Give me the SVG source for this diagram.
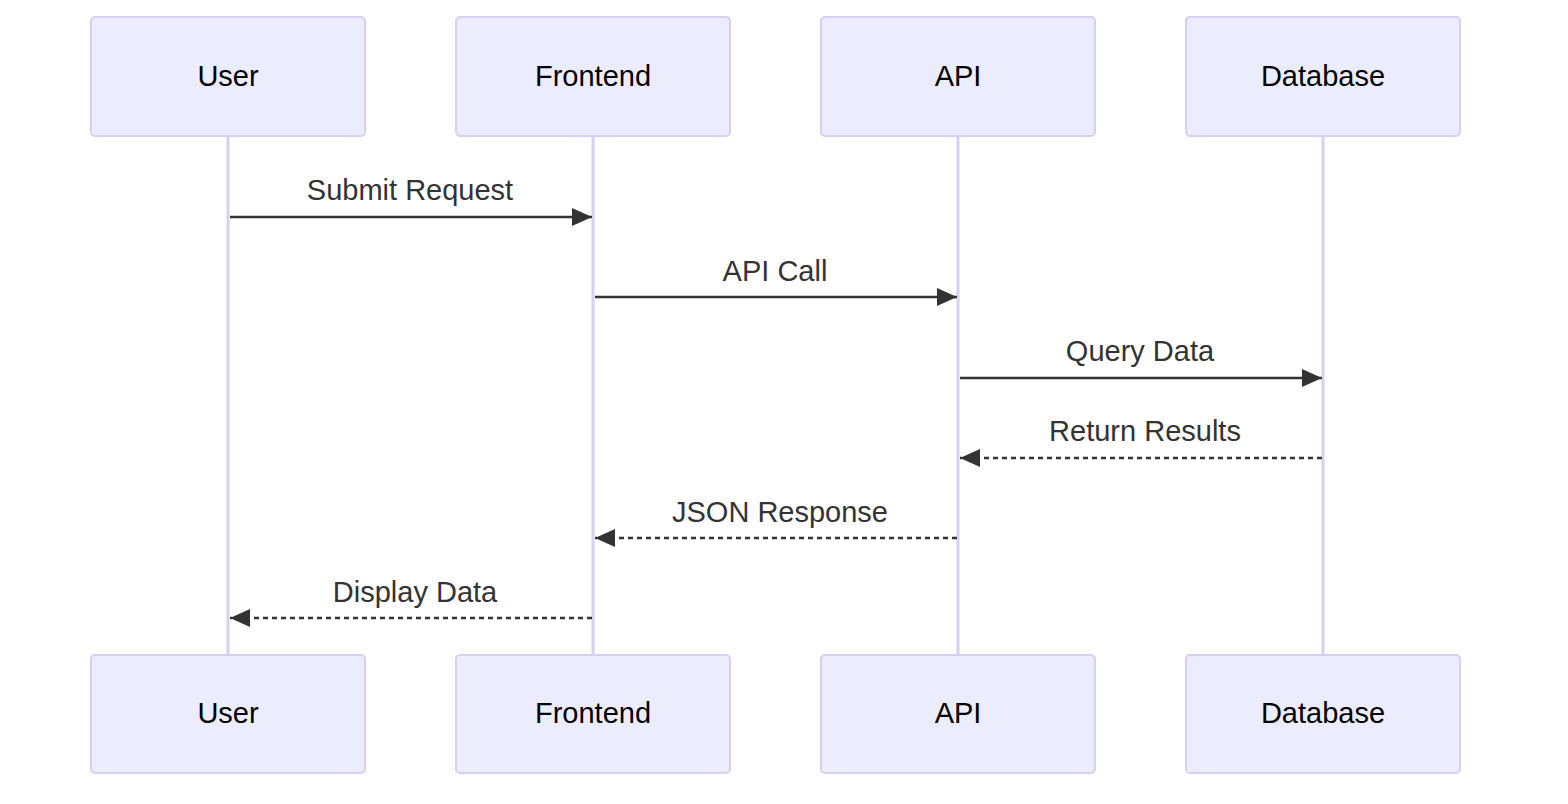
<svg xmlns="http://www.w3.org/2000/svg" width="1568" height="804" viewBox="0 0 1568 804">
<defs>
<style>
.actor rect{fill:#ECECFF;stroke:#D8CFF5;stroke-width:2}
.actor text{font-family:"Liberation Sans",Arial,sans-serif;font-size:29px;fill:#000;text-anchor:middle;dominant-baseline:central}
.life{stroke:#D8CFF5;stroke-width:3}
.msg{stroke:#333;stroke-width:2.5;fill:none}
.dash{stroke-dasharray:5,4}
.lbl{font-family:"Liberation Sans",Arial,sans-serif;font-size:29px;fill:#333;text-anchor:middle}
</style>
<marker id="ah" markerWidth="20" markerHeight="18" refX="20" refY="9" orient="auto-start-reverse" markerUnits="userSpaceOnUse">
<path d="M0,0 L20,9 L0,18 Z" fill="#333"/>
</marker>
</defs>
<rect width="1568" height="804" fill="#fff"/>
<g id="lifelines">
<line class="life" x1="228" y1="136" x2="228" y2="656"/>
<line class="life" x1="593" y1="136" x2="593" y2="656"/>
<line class="life" x1="958" y1="136" x2="958" y2="656"/>
<line class="life" x1="1323" y1="136" x2="1323" y2="656"/>
</g>
<g id="user-top" class="actor"><rect x="91" y="17" width="274" height="119" rx="4"/><text x="228" y="76">User</text></g>
<g id="frontend-top" class="actor"><rect x="456" y="17" width="274" height="119" rx="4"/><text x="593" y="76">Frontend</text></g>
<g id="api-top" class="actor"><rect x="821" y="17" width="274" height="119" rx="4"/><text x="958" y="76">API</text></g>
<g id="database-top" class="actor"><rect x="1186" y="17" width="274" height="119" rx="4"/><text x="1323" y="76">Database</text></g>
<g id="user-bottom" class="actor"><rect x="91" y="655" width="274" height="118" rx="4"/><text x="228" y="713">User</text></g>
<g id="frontend-bottom" class="actor"><rect x="456" y="655" width="274" height="118" rx="4"/><text x="593" y="713">Frontend</text></g>
<g id="api-bottom" class="actor"><rect x="821" y="655" width="274" height="118" rx="4"/><text x="958" y="713">API</text></g>
<g id="database-bottom" class="actor"><rect x="1186" y="655" width="274" height="118" rx="4"/><text x="1323" y="713">Database</text></g>
<g id="connectors">
<line class="msg" x1="230" y1="217" x2="592" y2="217" marker-end="url(#ah)"/>
<line class="msg" x1="595" y1="297" x2="957" y2="297" marker-end="url(#ah)"/>
<line class="msg" x1="960" y1="378" x2="1322" y2="378" marker-end="url(#ah)"/>
<line class="msg dash" x1="1322" y1="458" x2="960" y2="458" marker-end="url(#ah)"/>
<line class="msg dash" x1="957" y1="538" x2="595" y2="538" marker-end="url(#ah)"/>
<line class="msg dash" x1="592" y1="618" x2="230" y2="618" marker-end="url(#ah)"/>
<text class="lbl" x="410" y="200">Submit Request</text>
<text class="lbl" x="775" y="281">API Call</text>
<text class="lbl" x="1140" y="361">Query Data</text>
<text class="lbl" x="1145" y="441">Return Results</text>
<text class="lbl" x="780" y="522">JSON Response</text>
<text class="lbl" x="415" y="602">Display Data</text>
</g>
</svg>
